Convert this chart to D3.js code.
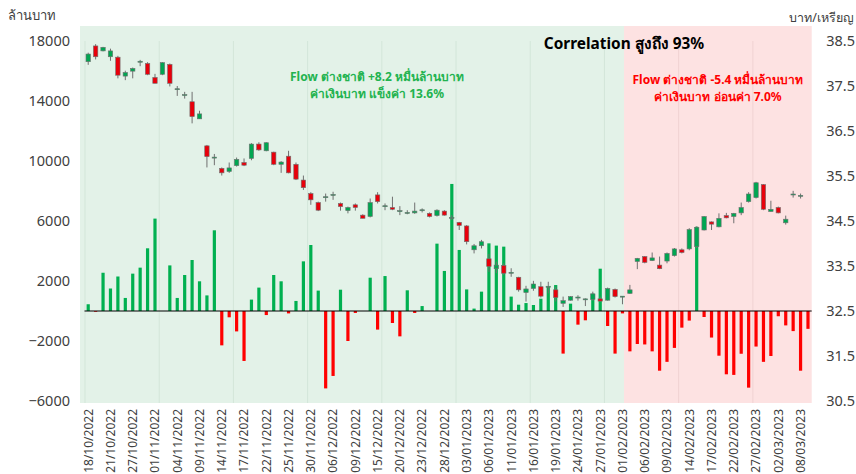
<!DOCTYPE html>
<html>
<head>
<meta charset="utf-8">
<script src="https://cdn.jsdelivr.net/npm/d3@7"></script>
<style>
  html, body { margin: 0; padding: 0; background: #fff; }
  svg { display: block; font-family: "Noto Sans", "Open Sans", sans-serif; }
</style>
</head>
<body>
<div id="chart"></div>
<script>
// ---------------------------------------------
// Daten: Handelstage, Flow (ล้านบาท), USD/THB-Kerzen
// ---------------------------------------------
const dates = [
  "18/10/2022","19/10/2022","20/10/2022","21/10/2022","25/10/2022","26/10/2022","27/10/2022","28/10/2022","31/10/2022",
  "01/11/2022","02/11/2022","03/11/2022","04/11/2022","07/11/2022","08/11/2022","09/11/2022","10/11/2022","11/11/2022",
  "14/11/2022","15/11/2022","16/11/2022","17/11/2022","18/11/2022","21/11/2022","22/11/2022","23/11/2022","24/11/2022",
  "25/11/2022","28/11/2022","29/11/2022","30/11/2022","01/12/2022","02/12/2022","06/12/2022","07/12/2022","08/12/2022",
  "09/12/2022","13/12/2022","14/12/2022","15/12/2022","16/12/2022","19/12/2022","20/12/2022","21/12/2022","22/12/2022",
  "23/12/2022","26/12/2022","27/12/2022","28/12/2022","29/12/2022","30/12/2022","03/01/2023","04/01/2023","05/01/2023",
  "06/01/2023","09/01/2023","10/01/2023","11/01/2023","12/01/2023","13/01/2023","16/01/2023","17/01/2023","18/01/2023",
  "19/01/2023","20/01/2023","23/01/2023","24/01/2023","25/01/2023","26/01/2023","27/01/2023","30/01/2023","31/01/2023",
  "01/02/2023","02/02/2023","03/02/2023","06/02/2023","07/02/2023","08/02/2023","09/02/2023","10/02/2023","13/02/2023",
  "14/02/2023","15/02/2023","16/02/2023","17/02/2023","20/02/2023","21/02/2023","22/02/2023","23/02/2023","24/02/2023",
  "27/02/2023","28/02/2023","01/03/2023","02/03/2023","03/03/2023","07/03/2023","08/03/2023","09/03/2023"
];

// Flow ต่างชาติ (ล้านบาท)
const flow = [
  450, -50, 2550, 1500, 2300, 870, 2490, 2890, 4180, 6160,
  0, 3040, 870, 2400, 3400, 1980, 1040, 5380, -2290, -420,
  -1360, -3330, 760, 1560, -270, 2400, 1980, -160, 670, 3310,
  4400, 1360, -5160, -4330, 1420, -2000, -130, 0, 2220, -1240,
  2330, -800, -1690, 1380, -130, 330, 0, 4490, 2670, 8470,
  4070, 1440, 160, 1290, 4510, 4360, 4290, 960, 420, 530,
  400, 820, 1600, 1730, -2840, 490, -910, -620, 1160, 2820,
  -1000, -2840, -160, -2690, -2200, -2230, -2690, -3980, -3390, -2460,
  -1110, -640, 5620, -400, -1770, -2980, -4220, -4260, -2850, -5110,
  -2370, -3390, -3000, -350, -960, -1340, -3980, -1190
];

// USD/THB (บาท/เหรียญ): open, high, low, close
const open = [
  38.04, 38.39, 38.28, 38.15, 38.14, 37.72, 37.83, 38.04, 38.00, 37.69,
  37.76, 37.98, 37.43, 37.30, 37.15, 36.77, 36.17, 35.91, 35.67, 35.60,
  35.73, 35.80, 35.89, 36.21, 36.06, 36.03, 35.76, 35.94, 35.76, 35.41,
  35.11, 34.91, 35.03, 35.08, 34.89, 34.73, 34.86, 34.63, 34.60, 35.08,
  34.83, 34.80, 34.72, 34.68, 34.68, 34.74, 34.67, 34.62, 34.72, 34.58,
  34.47, 34.39, 33.86, 33.95, 33.66, 33.44, 33.51, 33.35, 33.25, 32.91,
  33.00, 33.04, 33.04, 32.97, 32.67, 32.74, 32.80, 32.76, 32.76, 32.77,
  32.74, 32.98, 32.82, 32.89, 33.60, 33.71, 33.62, 33.52, 33.61, 33.73,
  33.86, 33.88, 33.93, 34.30, 34.48, 34.37, 34.62, 34.60, 34.68, 34.93,
  35.02, 35.31, 34.71, 34.80, 34.46, 35.09, 35.06, null
];
const high = [
  38.24, 38.43, 38.37, 38.33, 38.17, 37.84, 37.91, 38.08, 38.03, 37.77,
  38.03, 38.00, 37.50, 37.37, 37.37, 36.95, 36.19, 35.99, 35.69, 35.80,
  35.91, 35.89, 36.23, 36.25, 36.25, 36.04, 35.83, 36.06, 35.80, 35.51,
  35.14, 34.93, 35.11, 35.15, 34.91, 34.82, 34.89, 34.65, 35.00, 35.14,
  34.89, 35.04, 34.83, 34.74, 34.91, 34.78, 34.69, 34.76, 34.74, 34.63,
  34.48, 34.41, 33.99, 34.08, 33.77, 33.60, 33.56, 33.45, 33.26, 33.06,
  33.17, 33.15, 33.15, 33.04, 32.82, 32.83, 32.85, 32.78, 32.93, 32.82,
  33.02, 33.00, 32.83, 33.08, 33.68, 33.72, 33.80, 33.71, 33.80, 33.90,
  33.89, 34.34, 34.38, 34.61, 34.49, 34.67, 34.68, 34.68, 34.91, 35.14,
  35.37, 35.32, 34.95, 34.82, 34.62, 35.17, 35.11, null
];
const low = [
  37.97, 38.09, 38.27, 38.06, 37.67, 37.63, 37.67, 37.94, 37.74, 37.56,
  37.74, 37.49, 37.28, 37.22, 36.67, 36.77, 35.69, 35.74, 35.51, 35.57,
  35.71, 35.72, 35.85, 36.06, 36.05, 35.74, 35.57, 35.56, 35.41, 35.19,
  34.86, 34.72, 34.93, 34.97, 34.73, 34.67, 34.73, 34.56, 34.58, 34.89,
  34.74, 34.74, 34.63, 34.65, 34.66, 34.69, 34.58, 34.60, 34.62, 34.52,
  34.30, 33.98, 33.78, 33.89, 33.37, 33.34, 33.30, 33.26, 32.93, 32.71,
  32.95, 32.80, 32.89, 32.71, 32.59, 32.73, 32.73, 32.61, 32.73, 32.71,
  32.73, 32.80, 32.65, 32.88, 33.43, 33.56, 33.61, 33.43, 33.56, 33.71,
  33.78, 33.85, 33.90, 34.29, 34.30, 34.36, 34.56, 34.45, 34.63, 34.91,
  35.00, 34.74, 34.71, 34.67, 34.42, 35.02, 35.00, null
];
const close = [
  38.21, 38.15, 38.36, 38.28, 37.74, 37.80, 37.89, 38.05, 37.76, 37.56,
  38.02, 37.56, 37.44, 37.31, 36.82, 36.88, 35.93, 35.92, 35.57, 35.68,
  35.87, 35.74, 36.21, 36.08, 36.24, 35.76, 35.81, 35.57, 35.43, 35.24,
  34.97, 34.74, 35.04, 35.09, 34.82, 34.80, 34.80, 34.56, 34.91, 34.93,
  34.84, 34.76, 34.73, 34.69, 34.72, 34.75, 34.60, 34.74, 34.63, 34.58,
  34.40, 34.04, 33.95, 34.04, 33.49, 33.52, 33.34, 33.36, 32.97, 32.99,
  33.10, 32.83, 33.05, 32.80, 32.73, 32.82, 32.81, 32.77, 32.88, 32.72,
  33.00, 32.82, 32.83, 32.97, 33.67, 33.58, 33.68, 33.44, 33.78, 33.88,
  33.80, 34.31, 34.36, 34.60, 34.43, 34.56, 34.57, 34.67, 34.80, 35.10,
  35.35, 34.76, 34.76, 34.68, 34.54, 35.10, 35.07, null
];

const leftTicks = [-6000, -2000, 2000, 6000, 10000, 14000, 18000];
const rightTicks = [30.5, 31.5, 32.5, 33.5, 34.5, 35.5, 36.5, 37.5, 38.5];
const splitDate = "01/02/2023";   // ab hier: Phase mit Abfluss (rot)

// ---------------------------------------------
// Layout
// ---------------------------------------------
const W = 856, H = 474;
const plot = { left: 84.5, right: 811.7, top: 26, bottom: 403 };

const svg = d3.select("#chart").append("svg").attr("width", W).attr("height", H);

const x = d3.scaleBand().domain(dates).range([plot.left, plot.right]).padding(0);
const yL = d3.scaleLinear().domain([-6000, 18000]).range([401, 41]);
const yR = d3.scaleLinear().domain([30.5, 38.5]).range([401, 41]);
const bw = x.bandwidth();
const cx = d => x(d) + bw / 2;

// Hintergrund: grün / rot
const xSplit = cx(splitDate) + 1.5;
svg.append("rect").attr("x", 80).attr("y", plot.top)
  .attr("width", xSplit - 80).attr("height", plot.bottom - plot.top).attr("fill", "#e3f2e8");
svg.append("rect").attr("x", xSplit).attr("y", plot.top)
  .attr("width", plot.right - xSplit).attr("height", plot.bottom - plot.top).attr("fill", "#fde2e2");

// vertikale Gitterlinien alle 10 Kategorien
svg.append("g").selectAll("line")
  .data(dates.filter((d, i) => i % 10 === 0))
  .join("line")
  .attr("x1", d => x(d) + 0.5).attr("x2", d => x(d) + 0.5)
  .attr("y1", 41).attr("y2", plot.bottom)
  .attr("stroke", d => x(d) > xSplit ? "#f0d2d2" : "#d3e6d9").attr("stroke-width", 1);

// Achsen
const axL = svg.append("g").attr("transform", `translate(${plot.left},0)`)
  .call(d3.axisLeft(yL).tickValues(leftTicks).tickSize(0).tickPadding(14.5).tickFormat(d3.format("d")));
const axR = svg.append("g").attr("transform", `translate(${plot.right},0)`)
  .call(d3.axisRight(yR).tickValues(rightTicks).tickSize(0).tickPadding(14.5).tickFormat(d3.format(".1f")));
[axL, axR].forEach(a => {
  a.select(".domain").remove();
  a.selectAll("text").attr("font-size", 14.5).attr("fill", "#404040").attr("font-family", "Noto Sans, Open Sans, sans-serif");
});

const axB = svg.append("g").attr("transform", `translate(0,${plot.bottom})`)
  .call(d3.axisBottom(x).tickValues(dates.filter((d, i) => i % 3 === 0)).tickSize(0));
axB.select(".domain").remove();
axB.selectAll("text")
  .attr("transform", "rotate(-90)")
  .attr("text-anchor", "end")
  .attr("x", -6).attr("y", 0).attr("dy", "0.36em")
  .attr("font-size", 12).attr("fill", "#404040")
  .attr("font-family", "Noto Sans, Open Sans, sans-serif");

// Balken: Flow
svg.append("g").selectAll("rect")
  .data(dates.map((d, i) => ({ d, v: flow[i] })))
  .join("rect")
  .attr("x", p => cx(p.d) - 1.6)
  .attr("width", 3.2)
  .attr("y", p => yL(Math.max(0, p.v)))
  .attr("height", p => Math.abs(yL(p.v) - yL(0)))
  .attr("fill", p => p.v >= 0 ? "#00b050" : "#ff0000");

// Nulllinie
svg.append("line")
  .attr("x1", plot.left).attr("x2", plot.right)
  .attr("y1", yL(0)).attr("y2", yL(0))
  .attr("stroke", "#000").attr("stroke-width", 1);

// Kerzen: USD/THB
const candles = dates.map((d, i) => ({ d, o: open[i], h: high[i], l: low[i], c: close[i] }))
  .filter(k => k.o != null);
const cg = svg.append("g");
cg.selectAll("line")
  .data(candles)
  .join("line")
  .attr("x1", k => cx(k.d)).attr("x2", k => cx(k.d))
  .attr("y1", k => yR(k.h)).attr("y2", k => yR(k.l))
  .attr("stroke", "#707070").attr("stroke-width", 1);
cg.selectAll("rect")
  .data(candles)
  .join("rect")
  .attr("x", k => cx(k.d) - 2.2)
  .attr("width", 4.4)
  .attr("y", k => yR(Math.max(k.o, k.c)))
  .attr("height", k => Math.max(1, Math.abs(yR(k.o) - yR(k.c))))
  .attr("fill", k => k.c >= k.o ? "#00a651" : "#e8000b")
  .attr("stroke", "#707070").attr("stroke-width", 0.6);

// Texte
const T = (x0, y0, s, size, color, anchor = "middle", weight = 700) =>
  svg.append("text").attr("x", x0).attr("y", y0).attr("text-anchor", anchor)
    .attr("font-size", size).attr("font-weight", weight).attr("fill", color).text(s);

T(8, 20, "ล้านบาท", 13, "#404040", "start", 400);
T(854, 22, "บาท/เหรียญ", 12.5, "#404040", "end", 400);
T(624, 49, "Correlation สูงถึง 93%", 15.4, "#000");
T(377, 81, "Flow ต่างชาติ +8.2 หมื่นล้านบาท", 12, "#22b34f");
T(377, 97.5, "ค่าเงินบาท แข็งค่า 13.6%", 12, "#22b34f");
T(718, 84, "Flow ต่างชาติ -5.4 หมื่นล้านบาท", 12, "#ff0000");
T(718, 100.5, "ค่าเงินบาท อ่อนค่า 7.0%", 12, "#ff0000");
</script>
</body>
</html>
